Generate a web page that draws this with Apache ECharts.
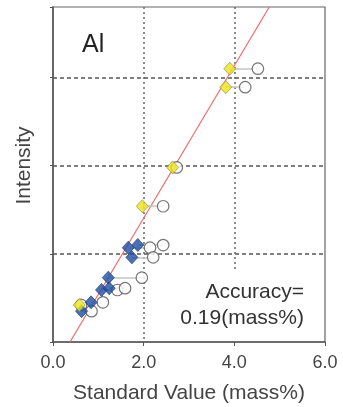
<!DOCTYPE html>
<html>
<head>
<meta charset="utf-8">
<script src="https://cdn.jsdelivr.net/npm/echarts@6/dist/echarts.min.js"></script>
<style>
  html, body { margin: 0; padding: 0; background: #fff; }
  #chart { width: 343px; height: 407px; }
</style>
</head>
<body>
<div id="chart"></div>
<script>
// standard value (x) vs intensity (y, arbitrary units)
const yellowX = [3.90, 3.81, 2.64, 1.97, 0.58];
const yellowY = [3.10, 2.89, 1.98, 1.54, 0.42];
const yellowCircX = [4.52, 4.24, 2.73, 2.43, 0.62];

const blueX = [1.66, 1.87, 1.74, 1.22, 1.07, 1.24, 0.84, 0.63];
const blueY = [1.07, 1.10, 0.96, 0.73, 0.59, 0.61, 0.45, 0.35];
const blueCircX = [2.14, 2.43, 2.21, 1.96, 1.42, 1.59, 1.10, 0.85];

const fitX = [0.375, 4.77];
const fitY = [0, 3.8];

const xTicks = [0, 2, 4, 6];

const chart = echarts.init(document.getElementById("chart"));

const diamondX = yellowX.concat(blueX);
const diamondY = yellowY.concat(blueY);
const circX = yellowCircX.concat(blueCircX);

const pairs = diamondX.map((x, i) => ({
  coords: [[x, diamondY[i]], [circX[i], diamondY[i]]]
}));

const font = "'Liberation Sans', Arial, sans-serif";

chart.setOption({
  animation: false,
  backgroundColor: "#fff",
  grid: { left: 53, right: 18, top: 7, bottom: 65, outerBoundsMode: "none",
    show: true, borderColor: "#666", borderWidth: 1.2 },
  xAxis: {
    type: "value", min: 0, max: 6, interval: 2,
    name: "Standard Value (mass%)", nameLocation: "middle", nameGap: 41,
    nameTextStyle: { fontFamily: font, fontSize: 21, color: "#444" },
    axisLine: { lineStyle: { color: "#555", width: 1.5 } },
    axisTick: { show: true, length: 4, lineStyle: { color: "#555" } },
    axisLabel: {
      fontFamily: font, fontSize: 18, color: "#444", margin: 12,
      formatter: v => xTicks.includes(v) ? v.toFixed(1) : ""
    },
    splitLine: { show: true, showMinLine: false, showMaxLine: false,
      lineStyle: { color: "#666", width: 1.5, type: [2, 3] } }
  },
  yAxis: {
    type: "value", min: 0, max: 3.8, interval: 1,
    name: "Intensity", nameLocation: "middle", nameGap: 18,
    nameTextStyle: { fontFamily: font, fontSize: 21, color: "#444", padding: [0, 0, 0, 18] },
    axisLine: { show: true, lineStyle: { color: "#555", width: 1.5 } },
    axisTick: { show: true, length: 3, lineStyle: { color: "#555" } },
    axisLabel: { show: false },
    splitLine: { show: true, showMinLine: false, showMaxLine: false,
      lineStyle: { color: "#555", width: 1.5, type: [4, 3] } }
  },
  graphic: [
    { type: "text", left: 82, top: 33, z: 100,
      style: { text: "Al", font: "25px " + font, fill: "#222" } },
    { type: "rect", z: 95, shape: { x: 196, y: 270, width: 124, height: 70 },
      style: { fill: "#fff" } },
    { type: "text", z: 100, x: 304, y: 279,
      style: { text: "Accuracy=\n0.19(mass%)", font: "21px " + font, lineHeight: 26,
        fill: "#333", textAlign: "right", textVerticalAlign: "top" } }
  ],
  series: [
    {
      type: "line", data: fitX.map((x, i) => [x, fitY[i]]), showSymbol: false,
      lineStyle: { color: "#f26a6a", width: 1.2 }, z: 3, silent: true
    },
    {
      type: "lines", coordinateSystem: "cartesian2d", data: pairs,
      lineStyle: { color: "#c4c4c4", width: 1.5, opacity: 1 }, z: 4, silent: true
    },
    {
      type: "scatter", data: circX.map((x, i) => [x, diamondY[i]]),
      symbol: "circle", symbolSize: 11.5,
      itemStyle: { color: "#fff", borderColor: "#555", borderWidth: 1.2 }, z: 5
    },
    {
      type: "scatter", data: blueX.map((x, i) => [x, blueY[i]]),
      symbol: "diamond", symbolSize: [12, 13],
      itemStyle: { color: "#1f4fa3", borderColor: "#15346e", borderWidth: 0.8 }, z: 6
    },
    {
      type: "scatter", data: yellowX.map((x, i) => [x, yellowY[i]]),
      symbol: "diamond", symbolSize: [12, 13],
      itemStyle: { color: "#ece31a", borderColor: "#8a8a40", borderWidth: 0.8 }, z: 7
    }
  ]
});
</script>
</body>
</html>
